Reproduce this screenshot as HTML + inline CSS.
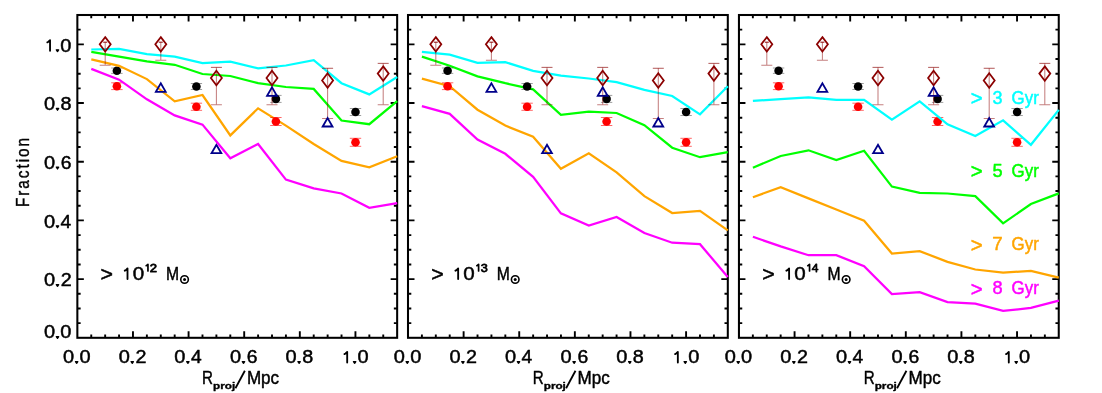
<!DOCTYPE html>
<html><head><meta charset="utf-8"><title>Fraction vs Rproj</title>
<style>
html,body{margin:0;padding:0;background:#fff;}
body{width:1102px;height:393px;position:relative;overflow:hidden;font-family:"Liberation Sans",sans-serif;}
svg{position:absolute;left:0;top:0;display:block;will-change:transform;}
text{white-space:pre;}
</style></head><body>
<svg width="1102" height="393" viewBox="0 0 1102 393">
<rect width="1102" height="393" fill="#fff"/>
<path d="M91.25 337.8v-3.3M91.25 15.0v3.3M105.16 337.8v-3.3M105.16 15.0v3.3M119.06 337.8v-3.3M119.06 15.0v3.3M132.97 337.8v-6.5M132.97 15.0v6.5M146.87 337.8v-3.3M146.87 15.0v3.3M160.78 337.8v-3.3M160.78 15.0v3.3M174.68 337.8v-3.3M174.68 15.0v3.3M188.58 337.8v-6.5M188.58 15.0v6.5M202.49 337.8v-3.3M202.49 15.0v3.3M216.39 337.8v-3.3M216.39 15.0v3.3M230.30 337.8v-3.3M230.30 15.0v3.3M244.20 337.8v-6.5M244.20 15.0v6.5M258.11 337.8v-3.3M258.11 15.0v3.3M272.01 337.8v-3.3M272.01 15.0v3.3M285.92 337.8v-3.3M285.92 15.0v3.3M299.82 337.8v-6.5M299.82 15.0v6.5M313.72 337.8v-3.3M313.72 15.0v3.3M327.63 337.8v-3.3M327.63 15.0v3.3M341.53 337.8v-3.3M341.53 15.0v3.3M355.44 337.8v-6.5M355.44 15.0v6.5M369.34 337.8v-3.3M369.34 15.0v3.3M383.25 337.8v-3.3M383.25 15.0v3.3M77.35 323.13h3.3M397.15 323.13h-3.3M77.35 308.45h3.3M397.15 308.45h-3.3M77.35 293.78h3.3M397.15 293.78h-3.3M77.35 279.11h6.5M397.15 279.11h-6.5M77.35 264.44h3.3M397.15 264.44h-3.3M77.35 249.76h3.3M397.15 249.76h-3.3M77.35 235.09h3.3M397.15 235.09h-3.3M77.35 220.42h6.5M397.15 220.42h-6.5M77.35 205.75h3.3M397.15 205.75h-3.3M77.35 191.07h3.3M397.15 191.07h-3.3M77.35 176.40h3.3M397.15 176.40h-3.3M77.35 161.73h6.5M397.15 161.73h-6.5M77.35 147.05h3.3M397.15 147.05h-3.3M77.35 132.38h3.3M397.15 132.38h-3.3M77.35 117.71h3.3M397.15 117.71h-3.3M77.35 103.04h6.5M397.15 103.04h-6.5M77.35 88.36h3.3M397.15 88.36h-3.3M77.35 73.69h3.3M397.15 73.69h-3.3M77.35 59.02h3.3M397.15 59.02h-3.3M77.35 44.35h6.5M397.15 44.35h-6.5M77.35 29.67h3.3M397.15 29.67h-3.3" stroke="#000" stroke-width="1.9" fill="none"/>
<rect x="77.35" y="15.0" width="319.8" height="322.8" fill="none" stroke="#000" stroke-width="2.05"/>
<g><polyline points="91.3,51.9 119.1,56.6 146.9,61.3 174.7,64.8 202.5,74.0 230.3,76.0 258.1,83.2 285.9,87.0 313.7,88.9 341.5,120.5 369.3,124.2 397.2,101.1" fill="none" stroke="#00ff00" stroke-width="2.25" stroke-linejoin="miter"/><path d="M111.2 68.0H122.6M111.2 73.4H122.6M116.9 68.0V73.4" stroke="#000" stroke-opacity="0.38" stroke-width="1" fill="none"/><circle cx="116.9" cy="70.7" r="4.3" fill="#000"/><path d="M190.8 83.5H202.1M190.8 89.5H202.1M196.4 83.5V89.5" stroke="#000" stroke-opacity="0.38" stroke-width="1" fill="none"/><circle cx="196.4" cy="86.5" r="4.3" fill="#000"/><path d="M270.2 95.4H281.6M270.2 102.4H281.6M275.9 95.4V102.4" stroke="#000" stroke-opacity="0.38" stroke-width="1" fill="none"/><circle cx="275.9" cy="98.9" r="4.3" fill="#000"/><path d="M349.8 108.5H361.2M349.8 115.5H361.2M355.5 108.5V115.5" stroke="#000" stroke-opacity="0.38" stroke-width="1" fill="none"/><circle cx="355.5" cy="112.0" r="4.3" fill="#000"/><polyline points="91.3,59.3 119.1,65.8 146.9,79.1 174.7,101.3 202.5,95.0 230.3,135.4 258.1,108.3 285.9,125.6 313.7,144.0 341.5,160.9 369.3,167.4 397.2,156.2" fill="none" stroke="#ffa500" stroke-width="2.25" stroke-linejoin="miter"/><path d="M111.2 82.8H122.6M111.2 89.6H122.6M116.9 82.8V89.6" stroke="#f00" stroke-opacity="0.6" stroke-width="1" fill="none"/><circle cx="116.9" cy="86.2" r="4.3" fill="#f00"/><path d="M190.8 103.2H202.1M190.8 110.3H202.1M196.4 103.2V110.3" stroke="#f00" stroke-opacity="0.6" stroke-width="1" fill="none"/><circle cx="196.4" cy="106.8" r="4.3" fill="#f00"/><path d="M270.2 117.5H281.6M270.2 125.5H281.6M275.9 117.5V125.5" stroke="#f00" stroke-opacity="0.6" stroke-width="1" fill="none"/><circle cx="275.9" cy="121.5" r="4.3" fill="#f00"/><path d="M349.8 138.3H361.2M349.8 146.3H361.2M355.5 138.3V146.3" stroke="#f00" stroke-opacity="0.6" stroke-width="1" fill="none"/><circle cx="355.5" cy="142.3" r="4.3" fill="#f00"/><polyline points="91.3,49.5 119.1,48.9 146.9,54.2 174.7,56.6 202.5,63.2 230.3,61.7 258.1,68.3 285.9,65.5 313.7,60.1 341.5,83.2 369.3,94.4 397.2,77.0" fill="none" stroke="#00ffff" stroke-width="2.25" stroke-linejoin="miter"/><path d="M105.2 42.2V65.3M99.7 65.3H110.7" stroke="#8b0000" stroke-opacity="0.5" stroke-width="1.05" fill="none"/><path d="M103.2 42.2H107.2" stroke="#8b0000" stroke-opacity="0.9" stroke-width="1.1" fill="none"/><path d="M105.2 37.1L110.7 44.3L105.2 51.5L99.7 44.3Z" fill="none" stroke="#8b0000" stroke-width="1.75" stroke-linejoin="miter"/><path d="M160.8 42.2V60.3M155.3 60.3H166.3" stroke="#8b0000" stroke-opacity="0.5" stroke-width="1.05" fill="none"/><path d="M158.8 42.2H162.8" stroke="#8b0000" stroke-opacity="0.9" stroke-width="1.1" fill="none"/><path d="M160.8 37.1L166.3 44.3L160.8 51.5L155.3 44.3Z" fill="none" stroke="#8b0000" stroke-width="1.75" stroke-linejoin="miter"/><path d="M216.4 67.4V104.8M210.9 104.8H221.9" stroke="#8b0000" stroke-opacity="0.5" stroke-width="1.05" fill="none"/><path d="M210.9 67.4H221.9" stroke="#8b0000" stroke-opacity="0.6" stroke-width="1.1" fill="none"/><path d="M216.4 70.8L221.9 78.0L216.4 85.2L210.9 78.0Z" fill="none" stroke="#8b0000" stroke-width="1.75" stroke-linejoin="miter"/><path d="M272.0 67.4V104.8M266.5 104.8H277.5" stroke="#8b0000" stroke-opacity="0.5" stroke-width="1.05" fill="none"/><path d="M266.5 67.4H277.5" stroke="#8b0000" stroke-opacity="0.6" stroke-width="1.1" fill="none"/><path d="M272.0 70.8L277.5 78.0L272.0 85.2L266.5 78.0Z" fill="none" stroke="#8b0000" stroke-width="1.75" stroke-linejoin="miter"/><path d="M327.6 68.3V118.5M322.1 118.5H333.1" stroke="#8b0000" stroke-opacity="0.5" stroke-width="1.05" fill="none"/><path d="M322.1 68.3H333.1" stroke="#8b0000" stroke-opacity="0.6" stroke-width="1.1" fill="none"/><path d="M327.6 73.3L333.1 80.5L327.6 87.7L322.1 80.5Z" fill="none" stroke="#8b0000" stroke-width="1.75" stroke-linejoin="miter"/><path d="M383.2 63.4V104.8M377.7 104.8H388.7" stroke="#8b0000" stroke-opacity="0.5" stroke-width="1.05" fill="none"/><path d="M377.7 63.4H388.7" stroke="#8b0000" stroke-opacity="0.6" stroke-width="1.1" fill="none"/><path d="M383.2 66.4L388.7 73.6L383.2 80.8L377.7 73.6Z" fill="none" stroke="#8b0000" stroke-width="1.75" stroke-linejoin="miter"/><path d="M155.9 91.8L160.8 83.3L165.7 91.8Z" fill="none" stroke="#00008b" stroke-width="1.8" stroke-linejoin="miter"/><path d="M211.5 153.2L216.4 144.8L221.3 153.2Z" fill="none" stroke="#00008b" stroke-width="1.8" stroke-linejoin="miter"/><path d="M267.1 95.8L272.0 87.4L276.9 95.8Z" fill="none" stroke="#00008b" stroke-width="1.8" stroke-linejoin="miter"/><path d="M322.7 126.5L327.6 118.1L332.5 126.5Z" fill="none" stroke="#00008b" stroke-width="1.8" stroke-linejoin="miter"/><polyline points="91.3,68.9 119.1,79.7 146.9,99.3 174.7,115.4 202.5,124.6 230.3,158.3 258.1,144.0 285.9,179.6 313.7,188.4 341.5,193.5 369.3,207.8 397.2,203.1" fill="none" stroke="#ff00ff" stroke-width="2.25" stroke-linejoin="miter"/></g>
<path d="M421.90 337.8v-3.3M421.90 15.0v3.3M435.81 337.8v-3.3M435.81 15.0v3.3M449.71 337.8v-3.3M449.71 15.0v3.3M463.62 337.8v-6.5M463.62 15.0v6.5M477.52 337.8v-3.3M477.52 15.0v3.3M491.43 337.8v-3.3M491.43 15.0v3.3M505.33 337.8v-3.3M505.33 15.0v3.3M519.23 337.8v-6.5M519.23 15.0v6.5M533.14 337.8v-3.3M533.14 15.0v3.3M547.04 337.8v-3.3M547.04 15.0v3.3M560.95 337.8v-3.3M560.95 15.0v3.3M574.85 337.8v-6.5M574.85 15.0v6.5M588.76 337.8v-3.3M588.76 15.0v3.3M602.66 337.8v-3.3M602.66 15.0v3.3M616.57 337.8v-3.3M616.57 15.0v3.3M630.47 337.8v-6.5M630.47 15.0v6.5M644.37 337.8v-3.3M644.37 15.0v3.3M658.28 337.8v-3.3M658.28 15.0v3.3M672.18 337.8v-3.3M672.18 15.0v3.3M686.09 337.8v-6.5M686.09 15.0v6.5M699.99 337.8v-3.3M699.99 15.0v3.3M713.90 337.8v-3.3M713.90 15.0v3.3M408.0 323.13h3.3M727.80 323.13h-3.3M408.0 308.45h3.3M727.80 308.45h-3.3M408.0 293.78h3.3M727.80 293.78h-3.3M408.0 279.11h6.5M727.80 279.11h-6.5M408.0 264.44h3.3M727.80 264.44h-3.3M408.0 249.76h3.3M727.80 249.76h-3.3M408.0 235.09h3.3M727.80 235.09h-3.3M408.0 220.42h6.5M727.80 220.42h-6.5M408.0 205.75h3.3M727.80 205.75h-3.3M408.0 191.07h3.3M727.80 191.07h-3.3M408.0 176.40h3.3M727.80 176.40h-3.3M408.0 161.73h6.5M727.80 161.73h-6.5M408.0 147.05h3.3M727.80 147.05h-3.3M408.0 132.38h3.3M727.80 132.38h-3.3M408.0 117.71h3.3M727.80 117.71h-3.3M408.0 103.04h6.5M727.80 103.04h-6.5M408.0 88.36h3.3M727.80 88.36h-3.3M408.0 73.69h3.3M727.80 73.69h-3.3M408.0 59.02h3.3M727.80 59.02h-3.3M408.0 44.35h6.5M727.80 44.35h-6.5M408.0 29.67h3.3M727.80 29.67h-3.3" stroke="#000" stroke-width="1.9" fill="none"/>
<rect x="408.0" y="15.0" width="319.8" height="322.8" fill="none" stroke="#000" stroke-width="2.05"/>
<g><polyline points="421.9,56.6 449.7,65.8 477.5,76.4 505.3,83.2 533.1,89.3 560.9,114.8 588.8,111.7 616.6,113.0 644.4,125.2 672.2,147.7 700.0,157.2 727.8,152.1" fill="none" stroke="#00ff00" stroke-width="2.25" stroke-linejoin="miter"/><path d="M441.9 68.0H453.3M441.9 73.4H453.3M447.6 68.0V73.4" stroke="#000" stroke-opacity="0.38" stroke-width="1" fill="none"/><circle cx="447.6" cy="70.7" r="4.3" fill="#000"/><path d="M521.4 83.5H532.8M521.4 89.5H532.8M527.1 83.5V89.5" stroke="#000" stroke-opacity="0.38" stroke-width="1" fill="none"/><circle cx="527.1" cy="86.5" r="4.3" fill="#000"/><path d="M600.9 95.4H612.3M600.9 102.4H612.3M606.6 95.4V102.4" stroke="#000" stroke-opacity="0.38" stroke-width="1" fill="none"/><circle cx="606.6" cy="98.9" r="4.3" fill="#000"/><path d="M680.4 108.5H691.8M680.4 115.5H691.8M686.1 108.5V115.5" stroke="#000" stroke-opacity="0.38" stroke-width="1" fill="none"/><circle cx="686.1" cy="112.0" r="4.3" fill="#000"/><polyline points="421.9,78.7 449.7,86.2 477.5,109.7 505.3,125.6 533.1,136.8 560.9,168.7 588.8,153.2 616.6,172.3 644.4,196.2 672.2,213.0 700.0,210.9 727.8,230.3" fill="none" stroke="#ffa500" stroke-width="2.25" stroke-linejoin="miter"/><path d="M441.9 82.8H453.3M441.9 89.6H453.3M447.6 82.8V89.6" stroke="#f00" stroke-opacity="0.6" stroke-width="1" fill="none"/><circle cx="447.6" cy="86.2" r="4.3" fill="#f00"/><path d="M521.4 103.2H532.8M521.4 110.3H532.8M527.1 103.2V110.3" stroke="#f00" stroke-opacity="0.6" stroke-width="1" fill="none"/><circle cx="527.1" cy="106.8" r="4.3" fill="#f00"/><path d="M600.9 117.5H612.3M600.9 125.5H612.3M606.6 117.5V125.5" stroke="#f00" stroke-opacity="0.6" stroke-width="1" fill="none"/><circle cx="606.6" cy="121.5" r="4.3" fill="#f00"/><path d="M680.4 138.3H691.8M680.4 146.3H691.8M686.1 138.3V146.3" stroke="#f00" stroke-opacity="0.6" stroke-width="1" fill="none"/><circle cx="686.1" cy="142.3" r="4.3" fill="#f00"/><polyline points="421.9,51.9 449.7,54.6 477.5,62.8 505.3,62.1 533.1,70.9 560.9,75.6 588.8,78.5 616.6,82.1 644.4,89.9 672.2,96.0 700.0,114.4 727.8,86.2" fill="none" stroke="#00ffff" stroke-width="2.25" stroke-linejoin="miter"/><path d="M435.8 42.2V65.3M430.3 65.3H441.3" stroke="#8b0000" stroke-opacity="0.5" stroke-width="1.05" fill="none"/><path d="M433.8 42.2H437.8" stroke="#8b0000" stroke-opacity="0.9" stroke-width="1.1" fill="none"/><path d="M435.8 37.1L441.3 44.3L435.8 51.5L430.3 44.3Z" fill="none" stroke="#8b0000" stroke-width="1.75" stroke-linejoin="miter"/><path d="M491.4 42.2V60.3M485.9 60.3H496.9" stroke="#8b0000" stroke-opacity="0.5" stroke-width="1.05" fill="none"/><path d="M489.4 42.2H493.4" stroke="#8b0000" stroke-opacity="0.9" stroke-width="1.1" fill="none"/><path d="M491.4 37.1L496.9 44.3L491.4 51.5L485.9 44.3Z" fill="none" stroke="#8b0000" stroke-width="1.75" stroke-linejoin="miter"/><path d="M547.0 67.4V104.8M541.5 104.8H552.5" stroke="#8b0000" stroke-opacity="0.5" stroke-width="1.05" fill="none"/><path d="M541.5 67.4H552.5" stroke="#8b0000" stroke-opacity="0.6" stroke-width="1.1" fill="none"/><path d="M547.0 70.8L552.5 78.0L547.0 85.2L541.5 78.0Z" fill="none" stroke="#8b0000" stroke-width="1.75" stroke-linejoin="miter"/><path d="M602.7 67.4V104.8M597.2 104.8H608.2" stroke="#8b0000" stroke-opacity="0.5" stroke-width="1.05" fill="none"/><path d="M597.2 67.4H608.2" stroke="#8b0000" stroke-opacity="0.6" stroke-width="1.1" fill="none"/><path d="M602.7 70.8L608.2 78.0L602.7 85.2L597.2 78.0Z" fill="none" stroke="#8b0000" stroke-width="1.75" stroke-linejoin="miter"/><path d="M658.3 68.3V118.5M652.8 118.5H663.8" stroke="#8b0000" stroke-opacity="0.5" stroke-width="1.05" fill="none"/><path d="M652.8 68.3H663.8" stroke="#8b0000" stroke-opacity="0.6" stroke-width="1.1" fill="none"/><path d="M658.3 73.3L663.8 80.5L658.3 87.7L652.8 80.5Z" fill="none" stroke="#8b0000" stroke-width="1.75" stroke-linejoin="miter"/><path d="M713.9 63.4V104.8M708.4 104.8H719.4" stroke="#8b0000" stroke-opacity="0.5" stroke-width="1.05" fill="none"/><path d="M708.4 63.4H719.4" stroke="#8b0000" stroke-opacity="0.6" stroke-width="1.1" fill="none"/><path d="M713.9 66.4L719.4 73.6L713.9 80.8L708.4 73.6Z" fill="none" stroke="#8b0000" stroke-width="1.75" stroke-linejoin="miter"/><path d="M486.5 91.8L491.4 83.3L496.3 91.8Z" fill="none" stroke="#00008b" stroke-width="1.8" stroke-linejoin="miter"/><path d="M542.1 153.2L547.0 144.8L551.9 153.2Z" fill="none" stroke="#00008b" stroke-width="1.8" stroke-linejoin="miter"/><path d="M597.8 95.8L602.7 87.4L607.6 95.8Z" fill="none" stroke="#00008b" stroke-width="1.8" stroke-linejoin="miter"/><path d="M653.4 126.5L658.3 118.1L663.2 126.5Z" fill="none" stroke="#00008b" stroke-width="1.8" stroke-linejoin="miter"/><polyline points="421.9,106.2 449.7,113.8 477.5,139.5 505.3,153.8 533.1,176.8 560.9,213.4 588.8,225.6 616.6,217.0 644.4,233.0 672.2,242.7 700.0,244.2 727.8,277.0" fill="none" stroke="#ff00ff" stroke-width="2.25" stroke-linejoin="miter"/></g>
<path d="M752.85 337.8v-3.3M752.85 15.0v3.3M766.76 337.8v-3.3M766.76 15.0v3.3M780.66 337.8v-3.3M780.66 15.0v3.3M794.57 337.8v-6.5M794.57 15.0v6.5M808.47 337.8v-3.3M808.47 15.0v3.3M822.38 337.8v-3.3M822.38 15.0v3.3M836.28 337.8v-3.3M836.28 15.0v3.3M850.18 337.8v-6.5M850.18 15.0v6.5M864.09 337.8v-3.3M864.09 15.0v3.3M877.99 337.8v-3.3M877.99 15.0v3.3M891.90 337.8v-3.3M891.90 15.0v3.3M905.80 337.8v-6.5M905.80 15.0v6.5M919.71 337.8v-3.3M919.71 15.0v3.3M933.61 337.8v-3.3M933.61 15.0v3.3M947.52 337.8v-3.3M947.52 15.0v3.3M961.42 337.8v-6.5M961.42 15.0v6.5M975.32 337.8v-3.3M975.32 15.0v3.3M989.23 337.8v-3.3M989.23 15.0v3.3M1003.13 337.8v-3.3M1003.13 15.0v3.3M1017.04 337.8v-6.5M1017.04 15.0v6.5M1030.94 337.8v-3.3M1030.94 15.0v3.3M1044.85 337.8v-3.3M1044.85 15.0v3.3M738.95 323.13h3.3M1058.75 323.13h-3.3M738.95 308.45h3.3M1058.75 308.45h-3.3M738.95 293.78h3.3M1058.75 293.78h-3.3M738.95 279.11h6.5M1058.75 279.11h-6.5M738.95 264.44h3.3M1058.75 264.44h-3.3M738.95 249.76h3.3M1058.75 249.76h-3.3M738.95 235.09h3.3M1058.75 235.09h-3.3M738.95 220.42h6.5M1058.75 220.42h-6.5M738.95 205.75h3.3M1058.75 205.75h-3.3M738.95 191.07h3.3M1058.75 191.07h-3.3M738.95 176.40h3.3M1058.75 176.40h-3.3M738.95 161.73h6.5M1058.75 161.73h-6.5M738.95 147.05h3.3M1058.75 147.05h-3.3M738.95 132.38h3.3M1058.75 132.38h-3.3M738.95 117.71h3.3M1058.75 117.71h-3.3M738.95 103.04h6.5M1058.75 103.04h-6.5M738.95 88.36h3.3M1058.75 88.36h-3.3M738.95 73.69h3.3M1058.75 73.69h-3.3M738.95 59.02h3.3M1058.75 59.02h-3.3M738.95 44.35h6.5M1058.75 44.35h-6.5M738.95 29.67h3.3M1058.75 29.67h-3.3" stroke="#000" stroke-width="1.9" fill="none"/>
<rect x="738.95" y="15.0" width="319.8" height="322.8" fill="none" stroke="#000" stroke-width="2.05"/>
<g><polyline points="752.9,167.7 780.7,156.0 808.5,150.3 836.3,160.0 864.1,150.7 891.9,186.6 919.7,192.8 947.5,193.5 975.3,196.2 1003.1,223.4 1030.9,204.0 1058.8,193.4" fill="none" stroke="#00ff00" stroke-width="2.25" stroke-linejoin="miter"/><path d="M772.9 68.0H784.3M772.9 73.4H784.3M778.6 68.0V73.4" stroke="#000" stroke-opacity="0.38" stroke-width="1" fill="none"/><circle cx="778.6" cy="70.7" r="4.3" fill="#000"/><path d="M852.4 83.5H863.8M852.4 89.5H863.8M858.1 83.5V89.5" stroke="#000" stroke-opacity="0.38" stroke-width="1" fill="none"/><circle cx="858.1" cy="86.5" r="4.3" fill="#000"/><path d="M931.9 95.4H943.3M931.9 102.4H943.3M937.6 95.4V102.4" stroke="#000" stroke-opacity="0.38" stroke-width="1" fill="none"/><circle cx="937.6" cy="98.9" r="4.3" fill="#000"/><path d="M1011.4 108.5H1022.8M1011.4 115.5H1022.8M1017.1 108.5V115.5" stroke="#000" stroke-opacity="0.38" stroke-width="1" fill="none"/><circle cx="1017.1" cy="112.0" r="4.3" fill="#000"/><polyline points="752.9,197.2 780.7,187.2 808.5,198.4 836.3,209.5 864.1,220.7 891.9,253.6 919.7,251.1 947.5,261.9 975.3,269.5 1003.1,272.6 1030.9,270.9 1058.8,277.7" fill="none" stroke="#ffa500" stroke-width="2.25" stroke-linejoin="miter"/><path d="M772.9 82.8H784.3M772.9 89.6H784.3M778.6 82.8V89.6" stroke="#f00" stroke-opacity="0.6" stroke-width="1" fill="none"/><circle cx="778.6" cy="86.2" r="4.3" fill="#f00"/><path d="M852.4 103.2H863.8M852.4 110.3H863.8M858.1 103.2V110.3" stroke="#f00" stroke-opacity="0.6" stroke-width="1" fill="none"/><circle cx="858.1" cy="106.8" r="4.3" fill="#f00"/><path d="M931.9 117.5H943.3M931.9 125.5H943.3M937.6 117.5V125.5" stroke="#f00" stroke-opacity="0.6" stroke-width="1" fill="none"/><circle cx="937.6" cy="121.5" r="4.3" fill="#f00"/><path d="M1011.4 138.3H1022.8M1011.4 146.3H1022.8M1017.1 138.3V146.3" stroke="#f00" stroke-opacity="0.6" stroke-width="1" fill="none"/><circle cx="1017.1" cy="142.3" r="4.3" fill="#f00"/><polyline points="752.9,100.9 780.7,99.1 808.5,97.4 836.3,99.9 864.1,99.9 891.9,119.7 919.7,101.3 947.5,124.4 975.3,136.0 1003.1,120.3 1030.9,144.8 1058.8,109.9" fill="none" stroke="#00ffff" stroke-width="2.25" stroke-linejoin="miter"/><path d="M766.8 42.2V65.3M761.3 65.3H772.3" stroke="#8b0000" stroke-opacity="0.5" stroke-width="1.05" fill="none"/><path d="M764.8 42.2H768.8" stroke="#8b0000" stroke-opacity="0.9" stroke-width="1.1" fill="none"/><path d="M766.8 37.1L772.3 44.3L766.8 51.5L761.3 44.3Z" fill="none" stroke="#8b0000" stroke-width="1.75" stroke-linejoin="miter"/><path d="M822.4 42.2V60.3M816.9 60.3H827.9" stroke="#8b0000" stroke-opacity="0.5" stroke-width="1.05" fill="none"/><path d="M820.4 42.2H824.4" stroke="#8b0000" stroke-opacity="0.9" stroke-width="1.1" fill="none"/><path d="M822.4 37.1L827.9 44.3L822.4 51.5L816.9 44.3Z" fill="none" stroke="#8b0000" stroke-width="1.75" stroke-linejoin="miter"/><path d="M878.0 67.4V104.8M872.5 104.8H883.5" stroke="#8b0000" stroke-opacity="0.5" stroke-width="1.05" fill="none"/><path d="M872.5 67.4H883.5" stroke="#8b0000" stroke-opacity="0.6" stroke-width="1.1" fill="none"/><path d="M878.0 70.8L883.5 78.0L878.0 85.2L872.5 78.0Z" fill="none" stroke="#8b0000" stroke-width="1.75" stroke-linejoin="miter"/><path d="M933.6 67.4V104.8M928.1 104.8H939.1" stroke="#8b0000" stroke-opacity="0.5" stroke-width="1.05" fill="none"/><path d="M928.1 67.4H939.1" stroke="#8b0000" stroke-opacity="0.6" stroke-width="1.1" fill="none"/><path d="M933.6 70.8L939.1 78.0L933.6 85.2L928.1 78.0Z" fill="none" stroke="#8b0000" stroke-width="1.75" stroke-linejoin="miter"/><path d="M989.2 68.3V118.5M983.7 118.5H994.7" stroke="#8b0000" stroke-opacity="0.5" stroke-width="1.05" fill="none"/><path d="M983.7 68.3H994.7" stroke="#8b0000" stroke-opacity="0.6" stroke-width="1.1" fill="none"/><path d="M989.2 73.3L994.7 80.5L989.2 87.7L983.7 80.5Z" fill="none" stroke="#8b0000" stroke-width="1.75" stroke-linejoin="miter"/><path d="M1044.8 63.4V104.8M1039.3 104.8H1050.3" stroke="#8b0000" stroke-opacity="0.5" stroke-width="1.05" fill="none"/><path d="M1039.3 63.4H1050.3" stroke="#8b0000" stroke-opacity="0.6" stroke-width="1.1" fill="none"/><path d="M1044.8 66.4L1050.3 73.6L1044.8 80.8L1039.3 73.6Z" fill="none" stroke="#8b0000" stroke-width="1.75" stroke-linejoin="miter"/><path d="M817.5 91.8L822.4 83.3L827.3 91.8Z" fill="none" stroke="#00008b" stroke-width="1.8" stroke-linejoin="miter"/><path d="M873.1 153.2L878.0 144.8L882.9 153.2Z" fill="none" stroke="#00008b" stroke-width="1.8" stroke-linejoin="miter"/><path d="M928.7 95.8L933.6 87.4L938.5 95.8Z" fill="none" stroke="#00008b" stroke-width="1.8" stroke-linejoin="miter"/><path d="M984.3 126.5L989.2 118.1L994.1 126.5Z" fill="none" stroke="#00008b" stroke-width="1.8" stroke-linejoin="miter"/><polyline points="752.9,236.8 780.7,246.4 808.5,255.2 836.3,255.2 864.1,266.2 891.9,294.0 919.7,292.2 947.5,302.1 975.3,303.7 1003.1,310.9 1030.9,307.9 1058.8,300.7" fill="none" stroke="#ff00ff" stroke-width="2.25" stroke-linejoin="miter"/></g>
<g font-family="Liberation Sans, sans-serif" stroke-linejoin="round"><text transform="translate(63.11,363.30) scale(1.141,1)" font-size="17.5" fill="#000" stroke="#000" stroke-width="0.45">0</text>
<text transform="translate(79.51,363.30) scale(1.141,1)" font-size="17.5" fill="#000" stroke="#000" stroke-width="0.45">0</text>
<text transform="translate(118.73,363.30) scale(1.141,1)" font-size="17.5" fill="#000" stroke="#000" stroke-width="0.45">0</text>
<text transform="translate(135.43,363.30) scale(1.129,1)" font-size="17.5" fill="#000" stroke="#000" stroke-width="0.45">2</text>
<text transform="translate(174.34,363.30) scale(1.141,1)" font-size="17.5" fill="#000" stroke="#000" stroke-width="0.45">0</text>
<text transform="translate(190.95,363.30) scale(1.099,1)" font-size="17.5" fill="#000" stroke="#000" stroke-width="0.45">4</text>
<text transform="translate(229.96,363.30) scale(1.141,1)" font-size="17.5" fill="#000" stroke="#000" stroke-width="0.45">0</text>
<text transform="translate(246.78,363.30) scale(1.106,1)" font-size="17.5" fill="#000" stroke="#000" stroke-width="0.45">6</text>
<text transform="translate(285.58,363.30) scale(1.141,1)" font-size="17.5" fill="#000" stroke="#000" stroke-width="0.45">0</text>
<text transform="translate(302.18,363.30) scale(1.130,1)" font-size="17.5" fill="#000" stroke="#000" stroke-width="0.45">8</text>
<text transform="translate(357.49,363.30) scale(1.141,1)" font-size="17.5" fill="#000" stroke="#000" stroke-width="0.45">0</text>
<text transform="translate(202.03,384.40) scale(0.868,1)" font-size="17.5" fill="#000" stroke="#000" stroke-width="0.45">R</text>
<text transform="translate(213.10,388.50) scale(1.196,1)" font-size="9.8" font-weight="bold" fill="#000" stroke="#000" stroke-width="0.35">proj</text>
<text transform="translate(246.90,384.40) scale(0.976,1)" font-size="17.5" fill="#000" stroke="#000" stroke-width="0.45">Mpc</text>
<text transform="translate(100.56,281.10) scale(1.218,1.2)" font-size="17.5" fill="#000" stroke="#000" stroke-width="0.45">&gt;</text>
<text transform="translate(132.69,279.90) scale(1.175,1)" font-size="17.5" fill="#000" stroke="#000" stroke-width="0.45">0</text>
<text transform="translate(149.81,271.70) scale(1.117,1)" font-size="11.8" fill="#000" stroke="#000" stroke-width="0.75">2</text>
<text transform="translate(166.00,279.60) scale(0.897,1)" font-size="17.5" fill="#000" stroke="#000" stroke-width="0.45">M</text>
<text transform="translate(393.76,363.30) scale(1.141,1)" font-size="17.5" fill="#000" stroke="#000" stroke-width="0.45">0</text>
<text transform="translate(410.16,363.30) scale(1.141,1)" font-size="17.5" fill="#000" stroke="#000" stroke-width="0.45">0</text>
<text transform="translate(449.38,363.30) scale(1.141,1)" font-size="17.5" fill="#000" stroke="#000" stroke-width="0.45">0</text>
<text transform="translate(466.08,363.30) scale(1.129,1)" font-size="17.5" fill="#000" stroke="#000" stroke-width="0.45">2</text>
<text transform="translate(504.99,363.30) scale(1.141,1)" font-size="17.5" fill="#000" stroke="#000" stroke-width="0.45">0</text>
<text transform="translate(521.60,363.30) scale(1.099,1)" font-size="17.5" fill="#000" stroke="#000" stroke-width="0.45">4</text>
<text transform="translate(560.61,363.30) scale(1.141,1)" font-size="17.5" fill="#000" stroke="#000" stroke-width="0.45">0</text>
<text transform="translate(577.43,363.30) scale(1.106,1)" font-size="17.5" fill="#000" stroke="#000" stroke-width="0.45">6</text>
<text transform="translate(616.23,363.30) scale(1.141,1)" font-size="17.5" fill="#000" stroke="#000" stroke-width="0.45">0</text>
<text transform="translate(632.83,363.30) scale(1.130,1)" font-size="17.5" fill="#000" stroke="#000" stroke-width="0.45">8</text>
<text transform="translate(688.14,363.30) scale(1.141,1)" font-size="17.5" fill="#000" stroke="#000" stroke-width="0.45">0</text>
<text transform="translate(532.68,384.40) scale(0.868,1)" font-size="17.5" fill="#000" stroke="#000" stroke-width="0.45">R</text>
<text transform="translate(543.75,388.50) scale(1.196,1)" font-size="9.8" font-weight="bold" fill="#000" stroke="#000" stroke-width="0.35">proj</text>
<text transform="translate(577.55,384.40) scale(0.976,1)" font-size="17.5" fill="#000" stroke="#000" stroke-width="0.45">Mpc</text>
<text transform="translate(431.21,281.10) scale(1.218,1.2)" font-size="17.5" fill="#000" stroke="#000" stroke-width="0.45">&gt;</text>
<text transform="translate(463.34,279.90) scale(1.175,1)" font-size="17.5" fill="#000" stroke="#000" stroke-width="0.45">0</text>
<text transform="translate(480.66,271.70) scale(1.076,1)" font-size="11.8" fill="#000" stroke="#000" stroke-width="0.75">3</text>
<text transform="translate(496.65,279.60) scale(0.897,1)" font-size="17.5" fill="#000" stroke="#000" stroke-width="0.45">M</text>
<text transform="translate(724.71,363.30) scale(1.141,1)" font-size="17.5" fill="#000" stroke="#000" stroke-width="0.45">0</text>
<text transform="translate(741.11,363.30) scale(1.141,1)" font-size="17.5" fill="#000" stroke="#000" stroke-width="0.45">0</text>
<text transform="translate(780.33,363.30) scale(1.141,1)" font-size="17.5" fill="#000" stroke="#000" stroke-width="0.45">0</text>
<text transform="translate(797.03,363.30) scale(1.129,1)" font-size="17.5" fill="#000" stroke="#000" stroke-width="0.45">2</text>
<text transform="translate(835.94,363.30) scale(1.141,1)" font-size="17.5" fill="#000" stroke="#000" stroke-width="0.45">0</text>
<text transform="translate(852.55,363.30) scale(1.099,1)" font-size="17.5" fill="#000" stroke="#000" stroke-width="0.45">4</text>
<text transform="translate(891.56,363.30) scale(1.141,1)" font-size="17.5" fill="#000" stroke="#000" stroke-width="0.45">0</text>
<text transform="translate(908.38,363.30) scale(1.106,1)" font-size="17.5" fill="#000" stroke="#000" stroke-width="0.45">6</text>
<text transform="translate(947.18,363.30) scale(1.141,1)" font-size="17.5" fill="#000" stroke="#000" stroke-width="0.45">0</text>
<text transform="translate(963.78,363.30) scale(1.130,1)" font-size="17.5" fill="#000" stroke="#000" stroke-width="0.45">8</text>
<text transform="translate(1019.09,363.30) scale(1.141,1)" font-size="17.5" fill="#000" stroke="#000" stroke-width="0.45">0</text>
<text transform="translate(863.63,384.40) scale(0.868,1)" font-size="17.5" fill="#000" stroke="#000" stroke-width="0.45">R</text>
<text transform="translate(874.70,388.50) scale(1.196,1)" font-size="9.8" font-weight="bold" fill="#000" stroke="#000" stroke-width="0.35">proj</text>
<text transform="translate(908.50,384.40) scale(0.976,1)" font-size="17.5" fill="#000" stroke="#000" stroke-width="0.45">Mpc</text>
<text transform="translate(762.16,281.10) scale(1.218,1.2)" font-size="17.5" fill="#000" stroke="#000" stroke-width="0.45">&gt;</text>
<text transform="translate(794.29,279.90) scale(1.175,1)" font-size="17.5" fill="#000" stroke="#000" stroke-width="0.45">0</text>
<text transform="translate(811.79,271.70) scale(1.020,1)" font-size="11.8" fill="#000" stroke="#000" stroke-width="0.75">4</text>
<text transform="translate(827.60,279.60) scale(0.897,1)" font-size="17.5" fill="#000" stroke="#000" stroke-width="0.45">M</text>
<text transform="translate(43.96,338.40) scale(1.141,1)" font-size="17.5" fill="#000" stroke="#000" stroke-width="0.45">0</text>
<text transform="translate(60.36,338.40) scale(1.141,1)" font-size="17.5" fill="#000" stroke="#000" stroke-width="0.45">0</text>
<text transform="translate(43.96,286.31) scale(1.141,1)" font-size="17.5" fill="#000" stroke="#000" stroke-width="0.45">0</text>
<text transform="translate(60.67,286.31) scale(1.129,1)" font-size="17.5" fill="#000" stroke="#000" stroke-width="0.45">2</text>
<text transform="translate(43.96,227.62) scale(1.141,1)" font-size="17.5" fill="#000" stroke="#000" stroke-width="0.45">0</text>
<text transform="translate(60.56,227.62) scale(1.099,1)" font-size="17.5" fill="#000" stroke="#000" stroke-width="0.45">4</text>
<text transform="translate(43.96,168.93) scale(1.141,1)" font-size="17.5" fill="#000" stroke="#000" stroke-width="0.45">0</text>
<text transform="translate(60.78,168.93) scale(1.106,1)" font-size="17.5" fill="#000" stroke="#000" stroke-width="0.45">6</text>
<text transform="translate(43.96,110.24) scale(1.141,1)" font-size="17.5" fill="#000" stroke="#000" stroke-width="0.45">0</text>
<text transform="translate(60.56,110.24) scale(1.130,1)" font-size="17.5" fill="#000" stroke="#000" stroke-width="0.45">8</text>
<text transform="translate(60.36,51.55) scale(1.141,1)" font-size="17.5" fill="#000" stroke="#000" stroke-width="0.45">0</text>
<text transform="translate(28.50,207.06) rotate(-90) scale(0.879,1)" font-size="17.5" letter-spacing="2.2" fill="#000" stroke="#000" stroke-width="0.4">Fraction</text>
<text transform="translate(970.75,105.00) scale(1.163,1.2)" font-size="17.5" fill="#00ffff" stroke="#00ffff" stroke-width="0.45">&gt;</text>
<text transform="translate(992.60,103.90) scale(1.028,1)" font-size="17.5" fill="#00ffff" stroke="#00ffff" stroke-width="0.45">3</text>
<text transform="translate(1011.57,103.90) scale(0.966,1)" font-size="17.5" fill="#00ffff" stroke="#00ffff" stroke-width="0.45">Gyr</text>
<text transform="translate(970.75,178.30) scale(1.163,1.2)" font-size="17.5" fill="#00ff00" stroke="#00ff00" stroke-width="0.45">&gt;</text>
<text transform="translate(992.51,177.20) scale(1.039,1)" font-size="17.5" fill="#00ff00" stroke="#00ff00" stroke-width="0.45">5</text>
<text transform="translate(1011.57,177.20) scale(0.966,1)" font-size="17.5" fill="#00ff00" stroke="#00ff00" stroke-width="0.45">Gyr</text>
<text transform="translate(970.75,251.50) scale(1.163,1.2)" font-size="17.5" fill="#ffa500" stroke="#ffa500" stroke-width="0.45">&gt;</text>
<text transform="translate(992.30,250.40) scale(1.071,1)" font-size="17.5" fill="#ffa500" stroke="#ffa500" stroke-width="0.45">7</text>
<text transform="translate(1011.57,250.40) scale(0.966,1)" font-size="17.5" fill="#ffa500" stroke="#ffa500" stroke-width="0.45">Gyr</text>
<text transform="translate(970.75,295.50) scale(1.163,1.2)" font-size="17.5" fill="#ff00ff" stroke="#ff00ff" stroke-width="0.45">&gt;</text>
<text transform="translate(992.51,294.40) scale(1.039,1)" font-size="17.5" fill="#ff00ff" stroke="#ff00ff" stroke-width="0.45">8</text>
<text transform="translate(1011.57,294.40) scale(0.966,1)" font-size="17.5" fill="#ff00ff" stroke="#ff00ff" stroke-width="0.45">Gyr</text>
<path d="M344.45 354.07L345.59 353.50L347.19 351.90V362.48" fill="none" stroke="#000" stroke-width="1.85" stroke-linecap="round" stroke-linejoin="round"/>
<path d="M124.76 270.67L125.90 270.10L127.50 268.50V279.07" fill="none" stroke="#000" stroke-width="1.85" stroke-linecap="round" stroke-linejoin="round"/>
<path d="M146.17 265.71L146.91 265.34L147.95 264.30V270.95" fill="none" stroke="#000" stroke-width="1.7" stroke-linecap="round" stroke-linejoin="round"/>
<path d="M675.10 354.07L676.24 353.50L677.84 351.90V362.48" fill="none" stroke="#000" stroke-width="1.85" stroke-linecap="round" stroke-linejoin="round"/>
<path d="M455.41 270.67L456.55 270.10L458.15 268.50V279.07" fill="none" stroke="#000" stroke-width="1.85" stroke-linecap="round" stroke-linejoin="round"/>
<path d="M476.82 265.71L477.56 265.34L478.60 264.30V270.95" fill="none" stroke="#000" stroke-width="1.7" stroke-linecap="round" stroke-linejoin="round"/>
<path d="M1006.05 354.07L1007.19 353.50L1008.79 351.90V362.48" fill="none" stroke="#000" stroke-width="1.85" stroke-linecap="round" stroke-linejoin="round"/>
<path d="M786.36 270.67L787.50 270.10L789.10 268.50V279.07" fill="none" stroke="#000" stroke-width="1.85" stroke-linecap="round" stroke-linejoin="round"/>
<path d="M807.77 265.71L808.51 265.34L809.55 264.30V270.95" fill="none" stroke="#000" stroke-width="1.7" stroke-linecap="round" stroke-linejoin="round"/>
<path d="M47.31 42.31L48.45 41.74L50.05 40.15V50.72" fill="none" stroke="#000" stroke-width="1.85" stroke-linecap="round" stroke-linejoin="round"/>
<path d="M75.50 361.55H77.80L76.65 363.30Z" fill="#000" stroke="#000" stroke-width="1.35" stroke-linejoin="round"/>
<path d="M131.12 361.55H133.42L132.27 363.30Z" fill="#000" stroke="#000" stroke-width="1.35" stroke-linejoin="round"/>
<path d="M186.73 361.55H189.03L187.88 363.30Z" fill="#000" stroke="#000" stroke-width="1.35" stroke-linejoin="round"/>
<path d="M242.35 361.55H244.65L243.50 363.30Z" fill="#000" stroke="#000" stroke-width="1.35" stroke-linejoin="round"/>
<path d="M297.97 361.55H300.27L299.12 363.30Z" fill="#000" stroke="#000" stroke-width="1.35" stroke-linejoin="round"/>
<path d="M353.49 361.55H355.79L354.64 363.30Z" fill="#000" stroke="#000" stroke-width="1.35" stroke-linejoin="round"/>
<path d="M406.15 361.55H408.45L407.30 363.30Z" fill="#000" stroke="#000" stroke-width="1.35" stroke-linejoin="round"/>
<path d="M461.77 361.55H464.07L462.92 363.30Z" fill="#000" stroke="#000" stroke-width="1.35" stroke-linejoin="round"/>
<path d="M517.38 361.55H519.68L518.53 363.30Z" fill="#000" stroke="#000" stroke-width="1.35" stroke-linejoin="round"/>
<path d="M573.00 361.55H575.30L574.15 363.30Z" fill="#000" stroke="#000" stroke-width="1.35" stroke-linejoin="round"/>
<path d="M628.62 361.55H630.92L629.77 363.30Z" fill="#000" stroke="#000" stroke-width="1.35" stroke-linejoin="round"/>
<path d="M684.14 361.55H686.44L685.29 363.30Z" fill="#000" stroke="#000" stroke-width="1.35" stroke-linejoin="round"/>
<path d="M737.10 361.55H739.40L738.25 363.30Z" fill="#000" stroke="#000" stroke-width="1.35" stroke-linejoin="round"/>
<path d="M792.72 361.55H795.02L793.87 363.30Z" fill="#000" stroke="#000" stroke-width="1.35" stroke-linejoin="round"/>
<path d="M848.33 361.55H850.63L849.48 363.30Z" fill="#000" stroke="#000" stroke-width="1.35" stroke-linejoin="round"/>
<path d="M903.95 361.55H906.25L905.10 363.30Z" fill="#000" stroke="#000" stroke-width="1.35" stroke-linejoin="round"/>
<path d="M959.57 361.55H961.87L960.72 363.30Z" fill="#000" stroke="#000" stroke-width="1.35" stroke-linejoin="round"/>
<path d="M1015.09 361.55H1017.39L1016.24 363.30Z" fill="#000" stroke="#000" stroke-width="1.35" stroke-linejoin="round"/>
<path d="M56.35 336.65H58.65L57.50 338.40Z" fill="#000" stroke="#000" stroke-width="1.35" stroke-linejoin="round"/>
<path d="M56.35 284.56H58.65L57.50 286.31Z" fill="#000" stroke="#000" stroke-width="1.35" stroke-linejoin="round"/>
<path d="M56.35 225.87H58.65L57.50 227.62Z" fill="#000" stroke="#000" stroke-width="1.35" stroke-linejoin="round"/>
<path d="M56.35 167.18H58.65L57.50 168.93Z" fill="#000" stroke="#000" stroke-width="1.35" stroke-linejoin="round"/>
<path d="M56.35 108.49H58.65L57.50 110.24Z" fill="#000" stroke="#000" stroke-width="1.35" stroke-linejoin="round"/>
<path d="M56.35 49.80H58.65L57.50 51.55Z" fill="#000" stroke="#000" stroke-width="1.35" stroke-linejoin="round"/>
<path d="M235.45 388.2L244.85 370.8" stroke="#000" stroke-width="1.8" fill="none"/>
<circle cx="184.55" cy="279.5" r="3.8" fill="none" stroke="#000" stroke-width="1.6"/><circle cx="184.55" cy="279.5" r="1.5" fill="#000"/>
<path d="M566.10 388.2L575.50 370.8" stroke="#000" stroke-width="1.8" fill="none"/>
<circle cx="515.20" cy="279.5" r="3.8" fill="none" stroke="#000" stroke-width="1.6"/><circle cx="515.20" cy="279.5" r="1.5" fill="#000"/>
<path d="M897.05 388.2L906.45 370.8" stroke="#000" stroke-width="1.8" fill="none"/>
<circle cx="846.15" cy="279.5" r="3.8" fill="none" stroke="#000" stroke-width="1.6"/><circle cx="846.15" cy="279.5" r="1.5" fill="#000"/></g></svg>

</body></html>
